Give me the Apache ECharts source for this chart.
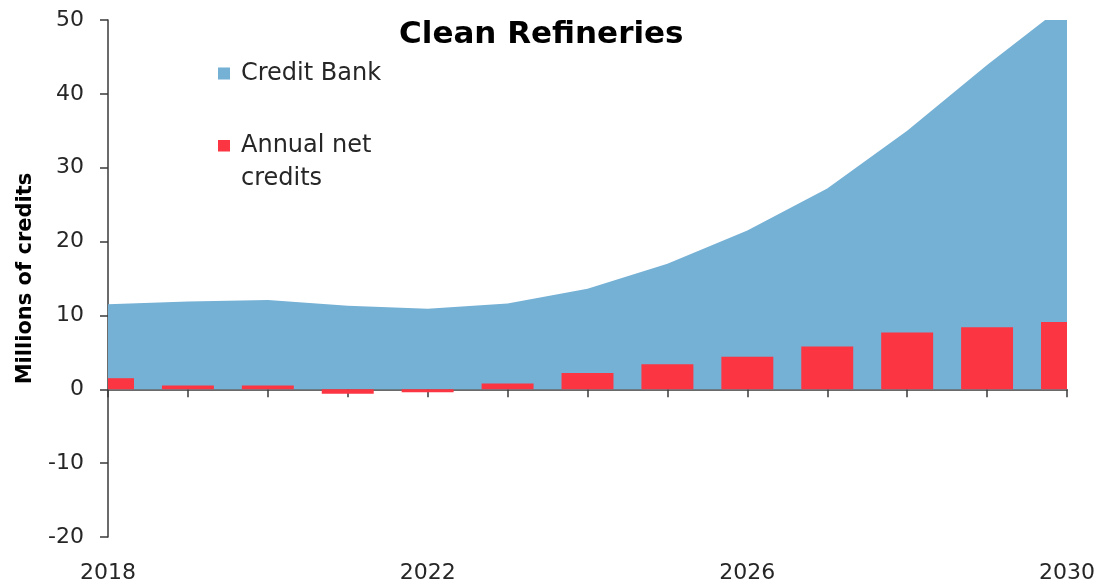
<!DOCTYPE html>
<html>
<head>
<meta charset="utf-8">
<title>Clean Refineries</title>
<script src="https://cdn.jsdelivr.net/npm/echarts@6/dist/echarts.min.js"></script>
<style>
  html, body { margin: 0; padding: 0; background: #ffffff; }
  #chart { width: 1104px; height: 586px; }
</style>
</head>
<body>
<div id="chart"></div>
<script>
// Clean refineries: banked credits and annual net credits, millions of credits
const years = [2018, 2019, 2020, 2021, 2022, 2023, 2024, 2025, 2026, 2027, 2028, 2029, 2030];
const creditBank = [11.5, 11.9, 12.1, 11.3, 10.9, 11.6, 13.6, 17.0, 21.5, 27.2, 35.0, 43.9, 52.3];
const annualNet = [1.5, 0.5, 0.5, -0.6, -0.4, 0.8, 2.2, 3.4, 4.4, 5.8, 7.7, 8.4, 9.1];
const yTicks = [-20, -10, 0, 10, 20, 30, 40, 50];
const labelledYears = [2018, 2022, 2026, 2030];

const BLUE = '#75B0D5';
const RED = '#FC3542';
const INK = '#262626';
const AXIS = '#3a3a3a';
const BAR_FRACTION = 0.65; // bar width as a share of one year

// Legend swatches: a 12px square inside a taller transparent box so the
// square lines up with the first line of its label.
function swatch(color, top) {
  const svg = '<svg xmlns="http://www.w3.org/2000/svg" width="18" height="45" viewBox="0 0 18 45">' +
    '<rect x="0" y="' + top + '" width="12" height="12" fill="' + color + '"/></svg>';
  return 'image://data:image/svg+xml;charset=utf-8,' + encodeURIComponent(svg);
}

// Bars centred on each year, trimmed to the plot area at both ends.
function renderBar(params, api) {
  const x = api.value(0);
  const v = api.value(1);
  const base = api.coord([x, 0]);
  const top = api.coord([x, v]);
  const w = api.size([1, 0])[0] * BAR_FRACTION;
  const cs = params.coordSys;
  const shape = echarts.graphic.clipRectByRect(
    { x: base[0] - w / 2, y: Math.min(base[1], top[1]), width: w, height: Math.abs(top[1] - base[1]) },
    { x: cs.x, y: cs.y, width: cs.width, height: cs.height }
  );
  return shape && { type: 'rect', shape: shape, style: { fill: RED } };
}

const chart = echarts.init(document.getElementById('chart'), null, { renderer: 'canvas' });

chart.setOption({
  animation: false,
  backgroundColor: '#ffffff',
  textStyle: { fontFamily: 'DejaVu Sans' },
  title: {
    text: 'Clean Refineries',
    left: 399,
    top: 19,
    padding: 0,
    textStyle: { fontSize: 31, fontWeight: 'bold', color: '#000000', fontFamily: 'DejaVu Sans' }
  },
  legend: {
    orient: 'vertical',
    left: 218,
    top: 51,
    padding: 0,
    itemGap: 33,
    itemWidth: 18,
    itemHeight: 45,
    selectedMode: false,
    textStyle: { fontSize: 24, lineHeight: 33, color: INK, fontFamily: 'DejaVu Sans' },
    data: [
      { name: 'Credit Bank', icon: swatch(BLUE, 16.5) },
      { name: 'Annual net\ncredits', icon: swatch(RED, 0) }
    ]
  },
  grid: { left: 108, right: 37, top: 20, bottom: 49, containLabel: false },
  xAxis: [
    {
      type: 'value',
      min: years[0],
      max: years[years.length - 1],
      interval: 1,
      axisLine: { show: true, onZero: true, lineStyle: { color: AXIS, width: 1.5 } },
      axisTick: { show: true, length: 8, lineStyle: { color: AXIS, width: 1.5 } },
      axisLabel: { show: false },
      splitLine: { show: false }
    },
    {
      type: 'value',
      position: 'bottom',
      min: years[0],
      max: years[years.length - 1],
      interval: 1,
      axisLine: { show: false, onZero: false },
      axisTick: { show: false },
      splitLine: { show: false },
      axisLabel: {
        show: true,
        margin: 25,
        showMinLabel: true,
        showMaxLabel: true,
        fontSize: 22,
        color: INK,
        fontFamily: 'DejaVu Sans',
        formatter: v => labelledYears.includes(v) ? String(v) : ''
      }
    }
  ],
  yAxis: {
    type: 'value',
    min: yTicks[0],
    max: yTicks[yTicks.length - 1],
    interval: 10,
    name: 'Millions of credits',
    nameLocation: 'middle',
    nameGap: 72,
    nameTextStyle: { fontSize: 21, fontWeight: 'bold', color: '#000000', fontFamily: 'DejaVu Sans' },
    axisLine: { show: true, onZero: false, lineStyle: { color: AXIS, width: 1.5 } },
    axisTick: { show: true, length: 8, lineStyle: { color: AXIS, width: 1.5 } },
    axisLabel: { fontSize: 22, color: INK, margin: 24, fontFamily: 'DejaVu Sans' },
    splitLine: { show: false }
  },
  series: [
    {
      name: 'Credit Bank',
      type: 'line',
      xAxisIndex: 0,
      data: years.map((y, i) => [y, creditBank[i]]),
      showSymbol: false,
      symbol: 'none',
      lineStyle: { width: 0 },
      itemStyle: { color: BLUE },
      areaStyle: { color: BLUE, opacity: 1 },
      clip: true,
      z: 1
    },
    {
      name: 'Annual net\ncredits',
      type: 'custom',
      xAxisIndex: 0,
      renderItem: renderBar,
      encode: { x: 0, y: 1 },
      itemStyle: { color: RED },
      data: years.map((y, i) => [y, annualNet[i]]),
      z: 3
    }
  ]
});
</script>
</body>
</html>
